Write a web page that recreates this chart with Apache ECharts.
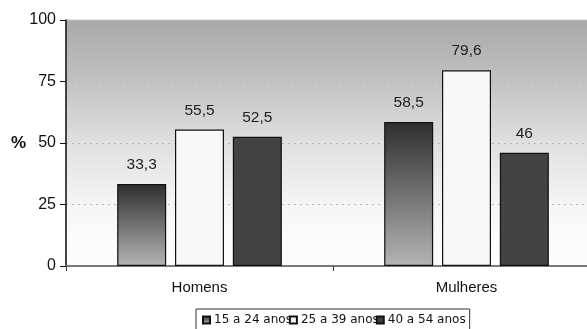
<!DOCTYPE html>
<html>
<head>
<meta charset="utf-8">
<script src="https://cdn.jsdelivr.net/npm/echarts@6/dist/echarts.min.js"></script>
<style>
  html, body { margin: 0; padding: 0; background: #fff; }
  #chart { width: 587px; height: 329px; }
</style>
</head>
<body>
<div id="chart"></div>
<script>
// Percentages by sex and age group
const categories = ['Homens', 'Mulheres'];
const ageGroups = ['15 a 24 anos', '25 a 39 anos', '40 a 54 anos'];
const values15a24 = [33.3, 58.5];
const values25a39 = [55.5, 79.6];
const values40a54 = [52.5, 46];
const yTicks = [0, 25, 50, 75, 100];

const fmt = v => String(v).replace('.', ',');

const chart = echarts.init(document.getElementById('chart'), null, { renderer: 'canvas' });

const labelStyle = {
  show: true,
  position: 'top',
  distance: 11,
  color: '#222',
  fontFamily: 'Liberation Sans, Arial, sans-serif',
  fontSize: 15.5,
  formatter: p => fmt(p.value)
};

const barStyles = [
  {
    color: new echarts.graphic.LinearGradient(0, 0, 0, 1, [
      { offset: 0, color: '#2e2e2e' },
      { offset: 1, color: '#b4b4b4' }
    ]),
    borderColor: '#111', borderWidth: 1.2
  },
  { color: '#f8f8f8', borderColor: '#111', borderWidth: 1.2 },
  { color: '#434343', borderColor: '#111', borderWidth: 1.2 }
];
const seriesValues = [values15a24, values25a39, values40a54];

chart.setOption({
  animation: false,
  grid: { left: 66, top: 20, width: 534, height: 246, outerBoundsMode: 'none', containLabel: false },
  graphic: [{
    type: 'rect',
    z: -1,
    shape: { x: 66, y: 20, width: 534, height: 246 },
    style: {
      fill: new echarts.graphic.LinearGradient(0, 0, 0, 1, [
        { offset: 0, color: '#a8a8a8' },
        { offset: 0.25, color: '#c2c2c2' },
        { offset: 0.5, color: '#e0e0e0' },
        { offset: 0.75, color: '#f5f5f5' },
        { offset: 0.88, color: '#fbfbfb' },
        { offset: 1, color: '#fdfdfd' }
      ]),
      stroke: '#c8c8c8',
      lineWidth: 1
    }
  }, {
    type: 'text',
    left: 11,
    top: 135,
    style: { text: '%', font: 'bold 17px Liberation Sans, Arial, sans-serif', fill: '#111' }
  }],
  legend: {
    data: ageGroups,
    left: 196,
    top: 309,
    orient: 'horizontal',
    itemWidth: 7,
    itemHeight: 7,
    itemGap: -3,
    padding: [5, 4, 10, 6],
    borderColor: '#333',
    borderWidth: 1,
    textStyle: { fontFamily: 'DejaVu Sans, sans-serif', fontSize: 12, color: '#111', padding: [0, 0, 0, -1] },
    icon: 'rect'
  },
  xAxis: {
    type: 'category',
    data: categories,
    axisLine: { lineStyle: { color: '#7a7a7a', width: 2 } },
    axisTick: { show: true, alignWithLabel: false, length: 5, lineStyle: { color: '#333' } },
    axisLabel: { color: '#111', fontFamily: 'Liberation Sans, Arial, sans-serif', fontSize: 15, margin: 14 }
  },
  yAxis: {
    type: 'value',
    min: 0,
    max: 100,
    interval: 25,
    axisLine: { show: true, lineStyle: { color: '#111', width: 1.5 } },
    axisTick: { show: true, length: 6, lineStyle: { color: '#111' } },
    axisLabel: {
      color: '#111', fontFamily: 'Liberation Sans, Arial, sans-serif', fontSize: 16, margin: 10,
      formatter: v => yTicks.includes(v) ? String(v) : ''
    },
    splitLine: { show: true, lineStyle: { color: '#b8b8b8', type: [2, 4], width: 1 } }
  },
  series: ageGroups.map((name, i) => ({
    name,
    type: 'bar',
    data: seriesValues[i],
    barWidth: 49,
    barGap: '18%',
    itemStyle: barStyles[i],
    label: labelStyle
  }))
});
</script>
</body>
</html>
